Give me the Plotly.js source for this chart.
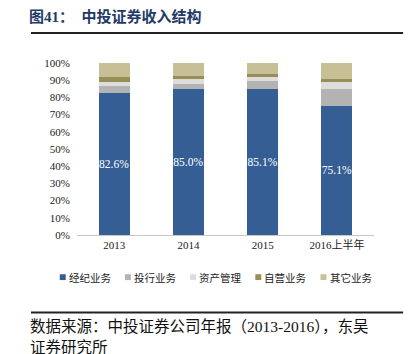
<!DOCTYPE html>
<html>
<head>
<meta charset="utf-8">
<script src="https://cdn.plot.ly/plotly-3.0.1.min.js"></script>
<style>html,body{margin:0;padding:0;background:#fff;}#chart{width:413px;height:354px;}</style>
</head>
<body>
<div id="chart"></div>
<script>
var categories = ['2013', '2014', '2015', '2016上半年'];
var seriesNames = ['经纪业务', '投行业务', '资产管理', '自营业务', '其它业务'];
var brokerage = [82.6, 85.0, 85.1, 75.1];
var investmentBanking = [3.8, 2.6, 4.6, 9.8];
var assetManagement = [2.8, 3.2, 2.0, 4.1];
var proprietary = [2.8, 1.8, 1.9, 1.7];
var others = [8.0, 7.4, 6.4, 9.3];
var yTickVals = [0, 10, 20, 30, 40, 50, 60, 70, 80, 90, 100];
var yTickText = ['0%', '10%', '20%', '30%', '40%', '50%', '60%', '70%', '80%', '90%', '100%'];

var colors = ['#355F94', '#B3B3B3', '#DDDDDD', '#988F56', '#C7BF96'];
var seriesValues = [brokerage, investmentBanking, assetManagement, proprietary, others];
var serif = '"Liberation Serif", "Times New Roman", "Noto Sans CJK SC", serif';
var cjk = '"Liberation Serif", "Noto Sans CJK SC", serif';

var traces = seriesValues.map(function (vals, i) {
  var t = {
    type: 'bar',
    name: seriesNames[i],
    x: categories,
    y: vals,
    marker: { color: colors[i], line: { width: 0 } },
    showlegend: false,
    hoverinfo: 'skip'
  };
  if (i === 0) {
    t.text = vals.map(function (v) { return v.toFixed(1) + '%'; });
    t.textposition = 'inside';
    t.insidetextanchor = 'middle';
    t.constraintext = 'none';
    t.textangle = 0;
    t.textfont = { family: serif, size: 11.5, color: '#FFFFFF' };
  }
  return t;
});

var shapes = [
  { type: 'line', xref: 'paper', yref: 'paper', x0: -0.155, x1: 1.098, y0: 1.175, y1: 1.175, line: { color: '#222', width: 2 } },
  { type: 'line', xref: 'paper', yref: 'paper', x0: -0.155, x1: 1.098, y0: -0.45, y1: -0.45, line: { color: '#222', width: 2 } }
];
var annotations = [
  { xref: 'paper', yref: 'paper', x: -0.17, y: 1.27, xanchor: 'left', yanchor: 'middle', showarrow: false,
    text: '<b>图41：  中投证券收入结构</b>', font: { family: cjk, size: 15, color: '#1F3A66' } },
  { xref: 'paper', yref: 'paper', x: -0.165, y: -0.53, xanchor: 'left', yanchor: 'middle', showarrow: false,
    text: '数据来源：中投证券公司年报（2013-2016），东吴', font: { family: cjk, size: 15.5, color: '#111' } },
  { xref: 'paper', yref: 'paper', x: -0.165, y: -0.655, xanchor: 'left', yanchor: 'middle', showarrow: false,
    text: '证券研究所', font: { family: cjk, size: 15.5, color: '#111' } }
];

// legend built from series names and colours
var legendX0 = -0.058, legendStep = 0.2195, legendY = -0.245;
seriesNames.forEach(function (name, i) {
  var x = legendX0 + i * legendStep;
  shapes.push({ type: 'rect', xref: 'paper', yref: 'paper', x0: x, x1: x + 0.02,
    y0: legendY - 0.017, y1: legendY + 0.017, fillcolor: colors[i], line: { width: 0 } });
  annotations.push({ xref: 'paper', yref: 'paper', x: x + 0.024, y: legendY, xanchor: 'left', yanchor: 'middle',
    showarrow: false, text: name, font: { family: '"Noto Sans CJK SC", serif', size: 10.5, color: '#222' } });
});

var layout = {
  width: 413, height: 354,
  margin: { l: 77, r: 39, t: 63, b: 119, pad: 0 },
  paper_bgcolor: '#FFFFFF', plot_bgcolor: '#FFFFFF',
  barmode: 'stack',
  bargap: 0.585,
  showlegend: false,
  xaxis: {
    type: 'category',
    showline: true, linecolor: '#C8C8C8', linewidth: 1,
    ticks: '', showgrid: false,
    tickfont: { family: cjk, size: 11, color: '#222' }
  },
  yaxis: {
    range: [0, 100], tickvals: yTickVals, ticktext: yTickText,
    showgrid: false, zeroline: false, showline: false, ticks: '',
    ticklabelstandoff: 6,
    tickfont: { family: serif, size: 11, color: '#222' }
  },
  shapes: shapes,
  annotations: annotations
};

Plotly.newPlot('chart', traces, layout, { displayModeBar: false, staticPlot: true });
</script>
</body>
</html>
